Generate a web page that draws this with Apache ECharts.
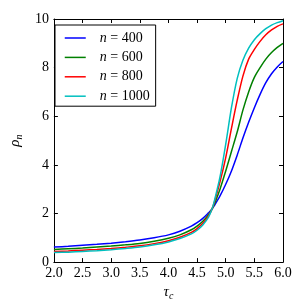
<!DOCTYPE html>
<html><head><meta charset="utf-8">
<script src="https://cdn.jsdelivr.net/npm/echarts@6/dist/echarts.min.js"></script>
<style>html,body{margin:0;padding:0;background:#fff}#c{width:306px;height:306px}</style>
</head><body><div id="c"></div>
<script>
var tau = [2.0,2.25,2.5,2.75,3.0,3.25,3.5,3.75,4.0,4.2,4.4,4.5,4.6,4.7,4.76,4.8,4.9,5.0,5.1,5.2,5.3,5.4,5.5,5.6,5.7,5.8,5.9,6.0];
var rho400 = [0.62,0.65,0.69,0.73,0.78,0.84,0.91,1.0,1.12,1.27,1.48,1.62,1.8,2.03,2.18,2.32,2.72,3.2,3.75,4.4,5.1,5.75,6.35,6.9,7.38,7.75,8.03,8.25];
var rho600 = [0.52,0.55,0.58,0.62,0.66,0.71,0.77,0.86,0.98,1.12,1.33,1.48,1.68,1.95,2.18,2.38,3.0,3.75,4.55,5.35,6.25,7.0,7.6,8.0,8.35,8.62,8.83,9.0];
var rho800 = [0.44,0.46,0.49,0.52,0.56,0.61,0.67,0.76,0.88,1.02,1.22,1.38,1.6,1.9,2.18,2.45,3.3,4.3,5.5,6.65,7.65,8.35,8.75,9.08,9.35,9.55,9.7,9.8];
var rho1000 = [0.39,0.41,0.44,0.47,0.51,0.56,0.62,0.71,0.83,0.97,1.16,1.31,1.53,1.85,2.18,2.5,3.5,4.85,6.35,7.55,8.3,8.8,9.15,9.4,9.6,9.75,9.85,9.93];
var seriesNames = ['n = 400','n = 600','n = 800','n = 1000'];
var seriesData = [rho400, rho600, rho800, rho1000];
var colors = ['#0000ff','#008000','#ff0000','#00bfbf'];

var font = 'Liberation Serif';
function pairs(ys){ return tau.map(function(x,i){ return [x, ys[i]]; }); }
var series = seriesNames.map(function(nm, k){
  return { name: nm, type: 'line', data: pairs(seriesData[k]), smooth: 0.3,
    symbol: 'none', showSymbol: false, color: colors[k],
    lineStyle: { color: colors[k], width: 1.5 }, xAxisIndex: 0, yAxisIndex: 0 };
});
var tickBase = { show: true, inside: true, length: 4, lineStyle: { color: '#000', width: 1 } };
var nameRich = { i: { fontFamily: font, fontStyle: 'italic', fontSize: 15, color: '#000' },
                 s: { fontFamily: font, fontStyle: 'italic', fontSize: 10, color: '#000', verticalAlign: 'bottom', padding: [7,0,0,0] } };
var chart = echarts.init(document.getElementById('c'), null, { renderer: 'canvas' });
chart.setOption({
  animation: false,
  backgroundColor: '#fff',
  grid: { left: 49, right: 23, top: 19, bottom: 43, show: false },
  xAxis: [
    { type: 'value', min: 2, max: 6, interval: 0.5, position: 'bottom',
      name: '{i|τ}{s|c}', nameLocation: 'middle', nameGap: 15,
      nameTextStyle: { rich: nameRich },
      axisLine: { show: true, onZero: false, lineStyle: { color: '#000', width: 1 } },
      axisTick: tickBase, splitLine: { show: false },
      axisLabel: { show: true, color: '#000', fontFamily: font, fontSize: 14, margin: 4,
        formatter: function(v){ return v.toFixed(1); } } },
    { type: 'value', min: 2, max: 6, interval: 0.5, position: 'top',
      axisLine: { show: true, onZero: false, lineStyle: { color: '#000', width: 1 } },
      axisTick: tickBase, splitLine: { show: false }, axisLabel: { show: false } }
  ],
  yAxis: [
    { type: 'value', min: 0, max: 10, interval: 2, position: 'left',
      name: '{i|ρ}{s|n}', nameLocation: 'middle', nameGap: 21, nameRotate: 90,
      nameTextStyle: { rich: nameRich },
      axisLine: { show: true, onZero: false, lineStyle: { color: '#000', width: 1 } },
      axisTick: tickBase, splitLine: { show: false },
      axisLabel: { show: true, color: '#000', fontFamily: font, fontSize: 14, margin: 5 } },
    { type: 'value', min: 0, max: 10, interval: 2, position: 'right',
      axisLine: { show: true, onZero: false, lineStyle: { color: '#000', width: 1 } },
      axisTick: tickBase, splitLine: { show: false }, axisLabel: { show: false } }
  ],
  legend: {
    orient: 'vertical', left: 55, top: 25,
    data: seriesNames,
    itemWidth: 21, itemHeight: 14, itemGap: 5.4,
    padding: [6, 6, 3, 9],
    borderColor: '#000', borderWidth: 1, backgroundColor: '#fff',
    itemStyle: { opacity: 0 },
    lineStyle: { width: 1.5 },
    formatter: function(name){ var p = name.split(' = '); return '{i|' + p[0] + '}{t| = ' + p[1] + '}'; },
    textStyle: { padding: [0, 0, 0, 9], lineHeight: 14,
      rich: { i: { fontFamily: font, fontStyle: 'italic', fontSize: 14, color: '#000' },
              t: { fontFamily: font, fontSize: 14, color: '#000' } } }
  },
  series: series
});
</script></body></html>
